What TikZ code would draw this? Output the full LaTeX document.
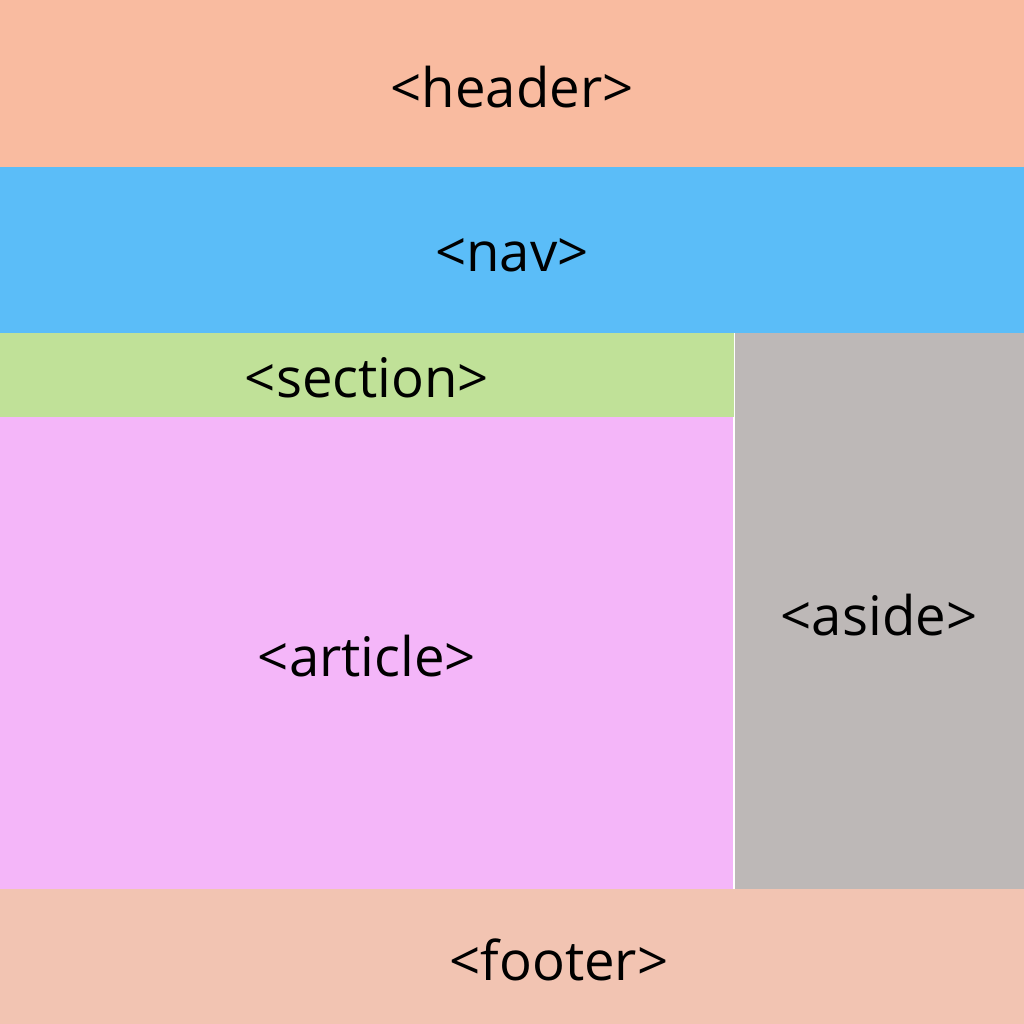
\documentclass[tikz,border=0pt]{standalone}
\usepackage{fontspec}
\setmainfont{Open Sans}
\usepackage{tikz}

\definecolor{HeaderC}{HTML}{F9BBA0}
\definecolor{NavC}{HTML}{5BBDF8}
\definecolor{SectionC}{HTML}{C0E198}
\definecolor{ArticleC}{HTML}{F4B6F9}
\definecolor{AsideC}{HTML}{BDB8B7}
\definecolor{FooterC}{HTML}{F2C4B2}

\begin{document}
\begin{tikzpicture}[x=0.01cm, y=-0.01cm]
\tikzset{tag/.style={font=\fontsize{15.5}{18}\selectfont, inner sep=0pt}}
\useasboundingbox (0,0) rectangle (1024,1024);
\fill[white] (0,0) rectangle (1024,1024);

\fill[HeaderC] (0,0) rectangle (1024,167);
\fill[NavC] (0,167) rectangle (1024,333);
\fill[SectionC] (0,333) rectangle (734,417);
\fill[ArticleC] (0,417) rectangle (733,889);
\fill[AsideC] (735,333) rectangle (1024,889);
\fill[FooterC] (0,889) rectangle (1024,1024);

\node[tag] (header) at (512,87) {<header>};
\node[tag] (nav) at (512,255) {<nav>};
\node[tag] (section) at (367,378) {<section>};
\node[tag] (article) at (367,656) {<article>};
\node[tag] (aside) at (879,615) {<aside>};
\node[tag] (footer) at (559,960) {<footer>};

\end{tikzpicture}
\end{document}
